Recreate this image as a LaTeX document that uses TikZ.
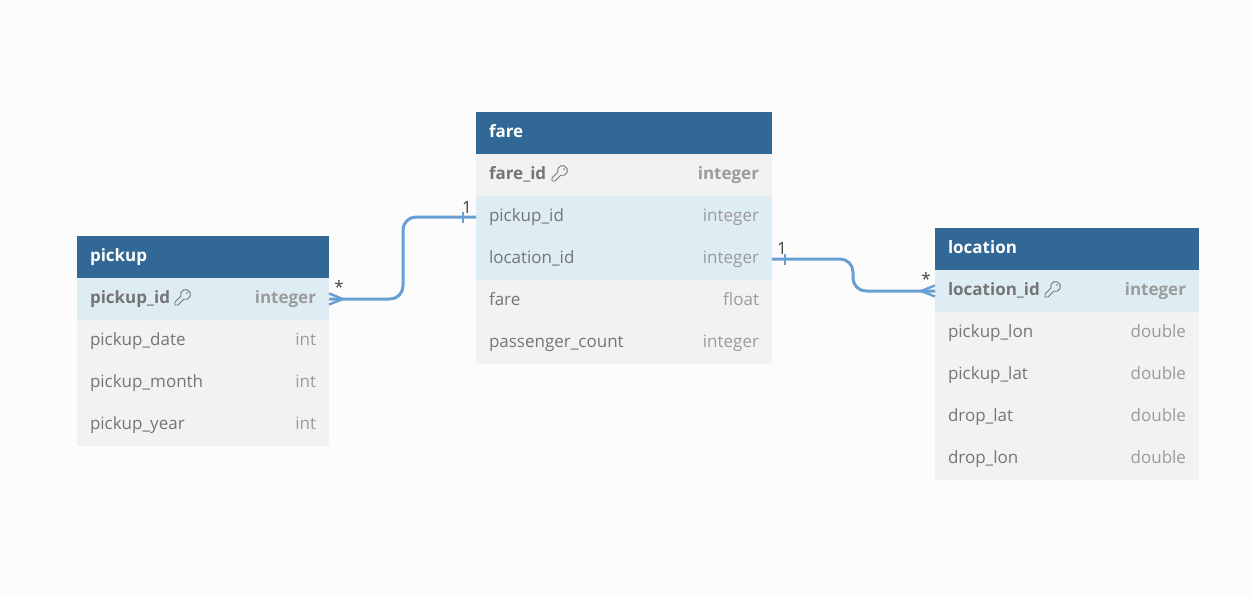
\documentclass[tikz,border=0pt]{standalone}
\usepackage{fontspec}
\setmainfont{Open Sans}
\usetikzlibrary{positioning}
\definecolor{headblue}{HTML}{316896}
\definecolor{linkrow}{HTML}{DEECF4}
\definecolor{greyrow}{HTML}{F2F2F2}
\definecolor{pagebg}{HTML}{FCFCFC}
\definecolor{wire}{HTML}{689FD2}
\definecolor{nametext}{HTML}{757575}
\definecolor{typetext}{HTML}{9B9B9B}
\definecolor{marktext}{HTML}{444444}
\tikzset{
	cell/.style={minimum width=#1pt, text width=#1pt-26pt, minimum height=42pt, inner xsep=13pt, inner ysep=0pt, outer sep=0pt,
		align=left, text height=12pt, text depth=4pt, font=\fontsize{17}{20}\selectfont, text=nametext},
	tablehead/.style={cell=#1, fill=headblue, text=white, font=\fontsize{17}{20}\selectfont\bfseries},
	keyrow/.style={cell=#1, fill=linkrow, font=\fontsize{17}{20}\selectfont\bfseries},
	linkcell/.style={cell=#1, fill=linkrow},
	plaincell/.style={cell=#1, fill=greyrow},
	greykey/.style={cell=#1, fill=greyrow, font=\fontsize{17}{20}\selectfont\bfseries},
	typelabel/.style={inner sep=0pt, outer sep=0pt, text height=12pt, text depth=4pt, text=typetext, font=\fontsize{17}{20}\selectfont},
	keytype/.style={typelabel, font=\fontsize{17}{20}\selectfont\bfseries},
	wireline/.style={draw=wire, line width=3pt, rounded corners=13pt},
	wiremark/.style={draw=wire, line width=2.4pt},
	endmark/.style={inner sep=0pt, text=marktext, font=\fontsize{17}{20}\selectfont},
	keyicon/.pic={
		\draw[nametext, line width=.9pt, line join=round] (-1.7,-1.29) arc (200:-110:5pt) -- (-4.5,7.5) -- (-7.5,7.5) -- (-7.5,4.5) -- cycle;
		\fill[nametext] (4.5,-4.5) circle (.9pt);
	}
}
\begin{document}
\begin{tikzpicture}[x=1pt,y=-1pt]
	\useasboundingbox[fill=pagebg] (0,0) rectangle (1252,598);

	% pickup table
	\node [tablehead=252, anchor=north west] (pickup) at (77,236) {pickup};
	\node [keyrow=252, below=0pt of pickup] (pickupid) {pickup\_id};
	\node [plaincell=252, below=0pt of pickupid] (pickupdate) {pickup\_date};
	\node [plaincell=252, below=0pt of pickupdate] (pickupmonth) {pickup\_month};
	\node [plaincell=252, below=0pt of pickupmonth] (pickupyear) {pickup\_year};
	\node [keytype, left=13pt of pickupid.east] (pickupidtype) {integer};
	\node [typelabel, left=13pt of pickupdate.east] (pickupdatetype) {int};
	\node [typelabel, left=13pt of pickupmonth.east] (pickupmonthtype) {int};
	\node [typelabel, left=13pt of pickupyear.east] (pickupyeartype) {int};
	\pic at (182.5,297.5) {keyicon};

	% fare table
	\node [tablehead=296, anchor=north west] (fare) at (476,112) {fare};
	\node [greykey=296, below=0pt of fare] (fareid) {fare\_id};
	\node [linkcell=296, below=0pt of fareid] (farepickup) {pickup\_id};
	\node [linkcell=296, below=0pt of farepickup] (farelocation) {location\_id};
	\node [plaincell=296, below=0pt of farelocation] (fareamount) {fare};
	\node [plaincell=296, below=0pt of fareamount] (farecount) {passenger\_count};
	\node [keytype, left=13pt of fareid.east] (fareidtype) {integer};
	\node [typelabel, left=13pt of farepickup.east] (farepickuptype) {integer};
	\node [typelabel, left=13pt of farelocation.east] (farelocationtype) {integer};
	\node [typelabel, left=13pt of fareamount.east] (fareamounttype) {float};
	\node [typelabel, left=13pt of farecount.east] (farecounttype) {integer};
	\pic at (559.5,173.5) {keyicon};

	% location table
	\node [tablehead=264, anchor=north west] (location) at (935,228) {location};
	\node [keyrow=264, below=0pt of location] (locationid) {location\_id};
	\node [plaincell=264, below=0pt of locationid] (pickuplon) {pickup\_lon};
	\node [plaincell=264, below=0pt of pickuplon] (pickuplat) {pickup\_lat};
	\node [plaincell=264, below=0pt of pickuplat] (droplat) {drop\_lat};
	\node [plaincell=264, below=0pt of droplat] (droplon) {drop\_lon};
	\node [keytype, left=13pt of locationid.east] (locationidtype) {integer};
	\node [typelabel, left=13pt of pickuplon.east] (pickuplontype) {double};
	\node [typelabel, left=13pt of pickuplat.east] (pickuplattype) {double};
	\node [typelabel, left=13pt of droplat.east] (droplattype) {double};
	\node [typelabel, left=13pt of droplon.east] (droplontype) {double};
	\pic at (1052.5,289.5) {keyicon};

	% connectors
	\coordinate (bendleft) at (403,258);
	\coordinate (bendright) at (853,275);
	\draw [wireline] (pickupid.east) -- (pickupid.east -| bendleft) -- (farepickup.west -| bendleft) -- (farepickup.west);
	\draw [wireline] (farelocation.east) -- (farelocation.east -| bendright) -- (locationid.west -| bendright) -- (locationid.west);
	\draw [wiremark] ([yshift=-5.5pt]pickupid.east) -- ([xshift=14pt]pickupid.east) -- ([yshift=5.5pt]pickupid.east);
	\draw [wiremark] ([shift={(-13pt,-5.5pt)}]farepickup.west) -- ([shift={(-13pt,5.5pt)}]farepickup.west);
	\draw [wiremark] ([shift={(13pt,-5.5pt)}]farelocation.east) -- ([shift={(13pt,5.5pt)}]farelocation.east);
	\draw [wiremark] ([yshift=-5.5pt]locationid.west) -- ([xshift=-14pt]locationid.west) -- ([yshift=5.5pt]locationid.west);

	% end marks
	\node [endmark] (starleft) at (339,287) {*};
	\node [endmark] (oneleft) at (467,207) {1};
	\node [endmark] (oneright) at (782,248) {1};
	\node [endmark] (starright) at (926,279) {*};
\end{tikzpicture}
\end{document}
